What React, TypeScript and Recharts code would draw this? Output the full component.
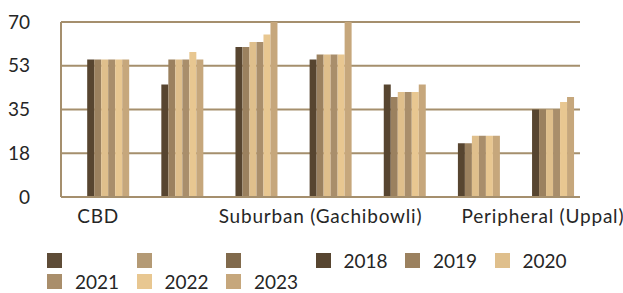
import React from "react";
import { BarChart, Bar, XAxis, YAxis, CartesianGrid } from "recharts";

const categories = [
  "CBD",
  "SBD (Hitec City)",
  "Financial District",
  "Suburban (Gachibowli)",
  "Suburban (Kondapur)",
  "Suburban (Kompally)",
  "Peripheral (Uppal)",
];

const v2018 = [55, 45, 60, 55, 45, 21.5, 35];
const v2019 = [55, 55, 60, 57, 40, 21.5, 35];
const v2020 = [55, 55, 62, 57, 42, 24.5, 35];
const v2021 = [55, 55, 62, 57, 42, 24.5, 35];
const v2022 = [55, 58, 65, 57, 42, 24.5, 38];
const v2023 = [55, 55, 70, 70, 45, 24.5, 40];

const yTicks = [0, 17.5, 35, 52.5, 70];

const seriesKeys = ["e1", "e2", "e3", "2018", "2019", "2020", "2021", "2022", "2023"];
const seriesNames = ["", "", "", "2018", "2019", "2020", "2021", "2022", "2023"];
const seriesColors = [
  "#5e4c37",
  "#b49a75",
  "#816a4c",
  "#574530",
  "#9b815f",
  "#dfbf8c",
  "#a98e6b",
  "#e8c791",
  "#c6a77c",
];

const yearValues: Record<string, number[]> = {
  "2018": v2018,
  "2019": v2019,
  "2020": v2020,
  "2021": v2021,
  "2022": v2022,
  "2023": v2023,
};

const data = categories.map((name, i) => {
  const row: Record<string, any> = { name };
  Object.keys(yearValues).forEach((k) => {
    row[k] = yearValues[k][i];
  });
  return row;
});

const gridColor = "#a58f6d";
const textColor = "#262626";
const font = "Lato, 'Liberation Sans', sans-serif";

export default function App() {
  return (
    <div
      style={{
        position: "absolute",
        left: 0,
        top: 0,
        width: 623,
        height: 293,
        background: "#fff",
        fontFamily: font,
        overflow: "hidden",
      }}
    >
      <BarChart
        width={623}
        height={240}
        data={data}
        margin={{ top: 22, right: 43, bottom: 0, left: 0 }}
        barCategoryGap="7%"
        barGap={0}
      >
        <CartesianGrid vertical={false} stroke={gridColor} strokeWidth={2} />
        <XAxis
          dataKey="name"
          height={43}
          interval={2}
          tickLine={false}
          tickSize={0}
          tickMargin={13}
          axisLine={{ stroke: gridColor, strokeWidth: 2 }}
          tick={{ fill: textColor, fontSize: 19, fontFamily: font, style: { letterSpacing: "0.8px" } }}
        />
        <YAxis
          width={61}
          domain={[0, 70]}
          ticks={yTicks}
          tickFormatter={(v: number) => String(Math.round(v))}
          tickLine={false}
          tickSize={0}
          tickMargin={31}
          axisLine={{ stroke: gridColor, strokeWidth: 2 }}
          tick={{ fill: textColor, fontSize: 19, fontFamily: font }}
        />
        {seriesKeys.map((k, i) => (
          <Bar
            key={k}
            dataKey={k}
            name={seriesNames[i] || " "}
            fill={seriesColors[i]}
            isAnimationActive={false}
          />
        ))}
      </BarChart>
      <div
        style={{
          position: "absolute",
          left: 47,
          top: 250,
          width: 540,
          display: "flex",
          flexWrap: "wrap",
        }}
      >
        {seriesKeys.map((k, i) => (
          <div
            key={k}
            style={{
              width: 89.5,
              height: 21,
              display: "flex",
              alignItems: "center",
              fontSize: 19,
              lineHeight: "15px",
              color: textColor,
            }}
          >
            <span
              style={{
                display: "inline-block",
                width: 15,
                height: 15,
                background: seriesColors[i],
                marginRight: 13,
                flexShrink: 0,
              }}
            />
            <span>{seriesNames[i]}</span>
          </div>
        ))}
      </div>
    </div>
  );
}
